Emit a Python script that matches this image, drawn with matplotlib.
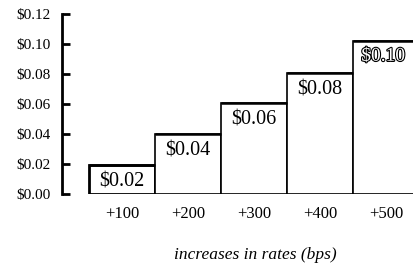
import matplotlib
matplotlib.use("Agg")
import matplotlib.pyplot as plt
import matplotlib.patheffects as pe

# data
categories = ['+100', '+200', '+300', '+400', '+500']
values = [0.0193, 0.040, 0.0607, 0.0807, 0.102]
bar_labels = ['$0.02', '$0.04', '$0.06', '$0.08', '$0.10']
yticks = [0.00, 0.02, 0.04, 0.06, 0.08, 0.10, 0.12]
ytick_labels = ['$0.00', '$0.02', '$0.04', '$0.06', '$0.08', '$0.10', '$0.12']

plt.rcParams['font.family'] = ['Liberation Serif', 'DejaVu Serif']

fig = plt.figure(figsize=(4.13, 2.64), dpi=100)
ax = fig.add_axes([62/413, 70/264, 351/413, 180/264])

x = range(len(categories))
bars = ax.bar(x, values, width=1.0, color='white', edgecolor='black', linewidth=1.2)
bars[0].set_linewidth(2.0)

# thicker top edges
for i, v in enumerate(values):
    ax.plot([i - 0.5, i + 0.5], [v, v], color='black', lw=1.8, solid_capstyle='butt')

for i, (v, lab) in enumerate(zip(values, bar_labels)):
    if i == len(values) - 1:
        ax.annotate(lab, (i, v), xytext=(-2, -11), textcoords='offset points',
                    ha='center', va='center', fontsize=14, color='white',
                    path_effects=[pe.withStroke(linewidth=1.6, foreground='black')])
    else:
        ax.annotate(lab, (i, v), xytext=(0, -12), textcoords='offset points',
                    ha='center', va='center', fontsize=14.5)

ax.set_xlim(-0.909, 4.409)
ax.set_ylim(0, 0.12)
ax.set_yticks(yticks)
ax.set_yticklabels(ytick_labels, fontsize=11)
ax.set_xticks(list(x))
ax.set_xticklabels(categories, fontsize=12)

for s in ['top', 'right', 'bottom']:
    ax.spines[s].set_visible(False)
ax.spines['left'].set_linewidth(2)
ax.tick_params(axis='y', direction='in', length=6, width=2, pad=8)
ax.tick_params(axis='x', length=0, pad=9)

ax.set_xlabel('increases in rates (bps)', fontsize=12.5, style='italic')
ax.xaxis.set_label_coords(0.55, -0.295)

plt.savefig('out.png', dpi=100)
